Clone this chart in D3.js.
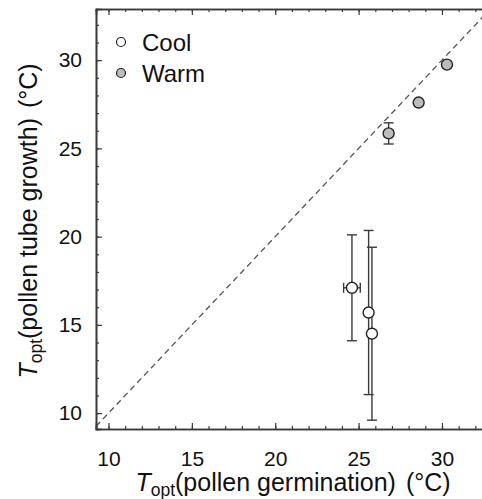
<!DOCTYPE html>
<html><head><meta charset="utf-8">
<script src="https://cdn.jsdelivr.net/npm/d3@7"></script>
<style>body{margin:0;background:#fff}svg{display:block;font-family:Arial,"Liberation Sans",sans-serif}</style>
</head><body>
<svg id="c" width="482" height="499"></svg>
<script>
// Data
const groups = ["Cool","Cool","Cool","Warm","Warm","Warm"];
const germ = [24.6, 25.6, 25.8, 26.8, 28.6, 30.3];       // Topt pollen germination
const germErr = [0.5, 0, 0, 0, 0, 0];
const tube = [17.1, 15.7, 14.5, 25.85, 27.6, 29.75];      // Topt pollen tube growth
const tubeErr = [3.0, 4.65, 4.9, 0.6, 0, 0];
const majorTicks = [10, 15, 20, 25, 30];
const minorTicks = [10,11,12,13,14,15,16,17,18,19,20,21,22,23,24,25,26,27,28,29,30,31,32];
const legendItems = ["Cool", "Warm"];
const fills = {Cool: "#ffffff", Warm: "#bcbcbc"};

const svg = d3.select("#c");
const x = d3.scaleLinear().domain([9.25, 33]).range([96, 492]);
const y = d3.scaleLinear().domain([9.1, 32.9]).range([429, 9]);
const ink = "#3a3a3a";

// 1:1 line
const lo = 9.25, hi = 32.9;
svg.append("line")
  .attr("x1", x(lo)).attr("y1", y(lo)).attr("x2", x(hi)).attr("y2", y(hi))
  .attr("stroke", "#555").attr("stroke-width", 1.3).attr("stroke-dasharray", "6,4");

// axes
function styleAxis(g){ g.select(".domain").attr("stroke", ink).attr("stroke-width", 1.6); g.selectAll(".tick line").attr("stroke", ink).attr("stroke-width", 1.2); }
const fmt = d3.format("d");
svg.append("g").attr("transform", `translate(0,${y.range()[0]})`)
  .call(d3.axisBottom(x).tickValues(minorTicks).tickSize(-3).tickFormat(""))
  .call(styleAxis);
svg.append("g").attr("transform", `translate(0,${y.range()[0]})`)
  .call(d3.axisBottom(x).tickValues(majorTicks).tickSize(-6).tickPadding(22).tickFormat(fmt))
  .call(styleAxis)
  .call(g => g.selectAll("text").attr("font-size", 21).attr("fill", "#111").attr("font-family", "Arial, 'Liberation Sans', sans-serif"));
svg.append("g").attr("transform", `translate(0,${y.range()[1]})`)
  .call(d3.axisTop(x).tickValues(minorTicks).tickSize(-3).tickFormat(""))
  .call(styleAxis);
svg.append("g").attr("transform", `translate(0,${y.range()[1]})`)
  .call(d3.axisTop(x).tickValues(majorTicks).tickSize(-6).tickFormat(""))
  .call(styleAxis);
svg.append("g").attr("transform", `translate(${x.range()[0]},0)`)
  .call(d3.axisLeft(y).tickValues(minorTicks).tickSize(-3).tickFormat(""))
  .call(styleAxis);
svg.append("g").attr("transform", `translate(${x.range()[0]},0)`)
  .call(d3.axisLeft(y).tickValues(majorTicks).tickSize(-6).tickPadding(14).tickFormat(fmt))
  .call(styleAxis)
  .call(g => g.selectAll("text").attr("font-size", 21).attr("fill", "#111").attr("font-family", "Arial, 'Liberation Sans', sans-serif"));

// error bars
const idx = d3.range(germ.length);
const cap = 5;
idx.forEach(i => {
  const g = svg.append("g").attr("stroke", ink).attr("stroke-width", 1.4);
  if (tubeErr[i] > 0) {
    const cx = x(germ[i]), t = y(tube[i] + tubeErr[i]), b = y(tube[i] - tubeErr[i]);
    g.append("line").attr("x1", cx).attr("x2", cx).attr("y1", t).attr("y2", b);
    g.append("line").attr("x1", cx - cap).attr("x2", cx + cap).attr("y1", t).attr("y2", t);
    g.append("line").attr("x1", cx - cap).attr("x2", cx + cap).attr("y1", b).attr("y2", b);
  }
  if (germErr[i] > 0) {
    const cy = y(tube[i]), l = x(germ[i] - germErr[i]), r = x(germ[i] + germErr[i]);
    g.append("line").attr("x1", l).attr("x2", r).attr("y1", cy).attr("y2", cy);
    g.append("line").attr("x1", l).attr("x2", l).attr("y1", cy - cap).attr("y2", cy + cap);
    g.append("line").attr("x1", r).attr("x2", r).attr("y1", cy - cap).attr("y2", cy + cap);
  }
});

// points
svg.append("g").selectAll("circle").data(idx).join("circle")
  .attr("cx", i => x(germ[i])).attr("cy", i => y(tube[i])).attr("r", 5.5)
  .attr("fill", i => fills[groups[i]]).attr("stroke", "#222").attr("stroke-width", 1.4);

// legend
const lg = svg.append("g");
legendItems.forEach((k, j) => {
  const yy = 42 + j * 31;
  lg.append("circle").attr("cx", 121).attr("cy", yy).attr("r", 4.5)
    .attr("fill", fills[k]).attr("stroke", "#222").attr("stroke-width", 1.2);
  lg.append("text").attr("x", 142).attr("y", yy + 8.5).attr("font-size", 24).attr("fill", "#111").text(k);
});

// axis titles
function title(sel, mid, unit){
  sel.append("tspan").attr("font-style", "italic").text("T");
  sel.append("tspan").attr("font-size", "0.7em").attr("dy", 5).text("opt");
  sel.append("tspan").attr("dy", -5).text(mid);
  sel.append("tspan").attr("dx", 3).text(unit);
}
const xt = svg.append("text").attr("x", 293).attr("y", 491).attr("text-anchor", "middle")
  .attr("font-size", 25).attr("fill", "#111");
title(xt, "(pollen germination)", " (°C)");
const yt = svg.append("text").attr("transform", "translate(37,221) rotate(-90)").attr("text-anchor", "middle")
  .attr("font-size", 25).attr("fill", "#111");
title(yt, "(pollen tube growth)", " (°C)");
</script>
</body></html>
